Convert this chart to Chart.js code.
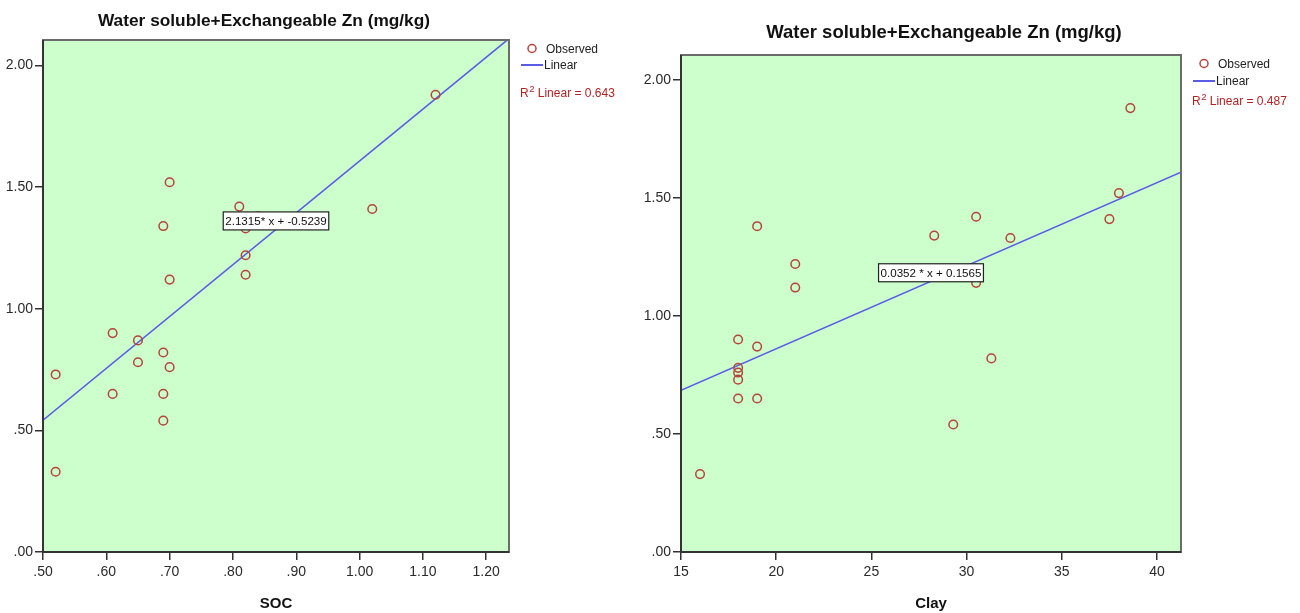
<!DOCTYPE html>
<html>
<head>
<meta charset="utf-8">
<script src="https://cdn.jsdelivr.net/npm/chart.js@4.4.1/dist/chart.umd.min.js"></script>
<style>
  html, body { margin: 0; padding: 0; background: #fff; }
  #wrap { position: relative; width: 1300px; height: 613px; }
  #wrap canvas { position: absolute; top: 0; }
</style>
</head>
<body>
<div id="wrap">
  <canvas id="socChart" width="630" height="613" style="left:0"></canvas>
  <canvas id="clayChart" width="670" height="613" style="left:630px"></canvas>
</div>
<script>
// ==============================
// Datos
// ==============================
const chartTitle = 'Water soluble+Exchangeable Zn (mg/kg)';
const znValues   = [0.73, 0.33, 0.90, 0.65, 0.87, 0.78, 1.34, 0.82, 0.65, 0.54,
                    1.52, 1.12, 0.76, 1.42, 1.33, 1.38, 1.22, 1.14, 1.41, 1.88];
const socValues  = [0.52, 0.52, 0.61, 0.61, 0.65, 0.65, 0.69, 0.69, 0.69, 0.69,
                    0.70, 0.70, 0.70, 0.81, 0.82, 0.84, 0.82, 0.82, 1.02, 1.12];
const clayValues = [18, 16, 18, 18, 19, 18, 28.3, 31.3, 19, 29.3,
                    38, 21, 18, 30.5, 32.3, 19, 21, 30.5, 37.5, 38.6];

// ajuste lineal mostrado en cada gráfico
const socFit  = { slope: 2.1315, intercept: -0.5239, label: '2.1315* x + -0.5239', r2: '0.643' };
const clayFit = { slope: 0.0352, intercept: 0.1565,  label: '0.0352 * x + 0.1565', r2: '0.487' };

// ticks
const znTicks   = [0, 0.5, 1.0, 1.5, 2.0];
const socTicks  = [0.5, 0.6, 0.7, 0.8, 0.9, 1.0, 1.1, 1.2];
const clayTicks = [15, 20, 25, 30, 35, 40];

const FONT = '"Liberation Sans", Arial, sans-serif';
const MARKER = '#b5453c';
const FITLINE = '#5b5be6';
const fmt2 = v => v.toFixed(2).replace(/^0\./, '.');

// ==============================
// Plugin: fondo, marco, título, leyenda y etiqueta de ecuación (estilo SPSS)
// ==============================
const spssPlugin = {
  id: 'spss',
  beforeDraw(chart) {
    const { ctx, chartArea: a } = chart;
    ctx.save();
    ctx.fillStyle = '#ccffcc';
    ctx.fillRect(a.left, a.top, a.right - a.left, a.bottom - a.top);
    ctx.restore();
  },
  afterDraw(chart, args, o) {
    const { ctx, chartArea: a, scales } = chart;
    ctx.save();

    // etiqueta de la ecuación, sobre la recta en el centro del área
    const cx = (a.left + a.right) / 2;
    const xv = scales.x.getValueForPixel(cx);
    const cy = scales.y.getPixelForValue(o.fit.slope * xv + o.fit.intercept) - 8.5;
    ctx.font = '11.6px ' + FONT;
    const tw = ctx.measureText(o.fit.label).width;
    ctx.fillStyle = '#fff';
    ctx.fillRect(cx - tw / 2 - 2, cy - 9, tw + 4, 18);
    ctx.strokeStyle = '#222';
    ctx.lineWidth = 1.2;
    ctx.strokeRect(cx - tw / 2 - 2, cy - 9, tw + 4, 18);
    ctx.fillStyle = '#111';
    ctx.textAlign = 'center';
    ctx.textBaseline = 'middle';
    ctx.fillText(o.fit.label, cx, cy + 1);

    // marco del área del gráfico
    ctx.strokeStyle = '#6b6b6b';
    ctx.lineWidth = 2;
    ctx.strokeRect(a.left, a.top, a.right - a.left, a.bottom - a.top);
    ctx.strokeStyle = '#333';
    ctx.beginPath();
    ctx.moveTo(a.left, a.top);
    ctx.lineTo(a.left, a.bottom);
    ctx.lineTo(a.right, a.bottom);
    ctx.stroke();

    // título
    ctx.font = 'bold ' + o.titleSize + 'px ' + FONT;
    ctx.fillStyle = '#111';
    ctx.fillText(chartTitle, o.titleX, o.titleY);

    // leyenda
    const lx = a.right, ly = a.top;
    ctx.strokeStyle = MARKER;
    ctx.lineWidth = 1.5;
    ctx.beginPath();
    ctx.arc(lx + 23, ly + 8.5, 4, 0, Math.PI * 2);
    ctx.stroke();
    ctx.strokeStyle = FITLINE;
    ctx.lineWidth = 2;
    ctx.beginPath();
    ctx.moveTo(lx + 12, ly + o.lineDy);
    ctx.lineTo(lx + 34, ly + o.lineDy);
    ctx.stroke();
    ctx.font = '12px ' + FONT;
    ctx.fillStyle = '#222';
    ctx.textAlign = 'left';
    ctx.fillText('Observed', lx + 37, ly + 10);
    ctx.fillText('Linear', lx + 35, ly + o.lineDy + 1);

    // R²
    ctx.fillStyle = '#b22222';
    let rx = lx + 11;
    const ry = ly + o.r2Dy;
    ctx.fillText('R', rx, ry);
    rx += ctx.measureText('R').width + 0.5;
    ctx.font = '9.5px ' + FONT;
    ctx.fillText('2', rx, ry - 5);
    rx += ctx.measureText('2').width;
    ctx.font = '12px ' + FONT;
    ctx.fillText(' Linear = ' + o.fit.r2, rx, ry);
    ctx.restore();
  }
};

// ==============================
// Construcción de cada gráfico
// ==============================
function makeScatter(canvasId, xs, xTicks, xLabel, xMax, fit, box, deco) {
  const points = xs.map((x, i) => ({ x: x, y: znValues[i] }));
  const xMin = xTicks[0];
  const yMax = 2.105;
  const lineData = [xMin, xMax].map(x => ({ x: x, y: fit.slope * x + fit.intercept }));
  const tickFmt = xTicks[0] < 10 ? fmt2 : (v => String(v));

  return new Chart(document.getElementById(canvasId), {
    type: 'scatter',
    data: {
      datasets: [
        {
          data: points,
          pointStyle: 'circle',
          pointRadius: 4.3,
          pointBorderWidth: 1.5,
          borderColor: MARKER,
          backgroundColor: 'rgba(0,0,0,0)',
          order: 1
        },
        {
          data: lineData,
          showLine: true,
          pointRadius: 0,
          borderColor: FITLINE,
          borderWidth: 1.6,
          order: 2
        }
      ]
    },
    options: {
      responsive: false,
      animation: false,
      layout: { padding: { left: 0, top: box.top, right: box.right, bottom: 0 } },
      plugins: {
        legend: { display: false },
        tooltip: { enabled: false },
        spss: deco
      },
      scales: {
        x: {
          type: 'linear',
          min: xMin,
          max: xMax,
          afterBuildTicks: s => { s.ticks = xTicks.map(v => ({ value: v })); },
          afterFit: s => { s.height = box.xHeight; },
          border: { display: false },
          grid: { drawOnChartArea: false, drawTicks: true, tickLength: 8, color: '#333', lineWidth: 1.5 },
          ticks: { padding: 4, color: '#2a2a2a', font: { family: FONT, size: 14 }, maxRotation: 0, callback: tickFmt },
          title: { display: true, text: xLabel, color: '#111', padding: { top: 0, bottom: 0 },
                   font: { family: FONT, size: 15, weight: 'bold' } }
        },
        y: {
          type: 'linear',
          min: 0,
          max: yMax,
          afterBuildTicks: s => { s.ticks = znTicks.map(v => ({ value: v })); },
          afterFit: s => { s.width = box.left; },
          border: { display: false },
          grid: { drawOnChartArea: false, drawTicks: true, tickLength: 8, color: '#333', lineWidth: 1.5 },
          ticks: { padding: 2, color: '#2a2a2a', font: { family: FONT, size: 14 }, callback: fmt2 }
        }
      }
    },
    plugins: [spssPlugin]
  });
}

window.addEventListener('DOMContentLoaded', () => {
  makeScatter('socChart', socValues, socTicks, 'SOC', 1.236, socFit,
    { left: 43, top: 40, right: 121, xHeight: 61 },
    { fit: socFit, titleX: 264, titleY: 21, titleSize: 17.3, lineDy: 25, r2Dy: 54 });
  makeScatter('clayChart', clayValues, clayTicks, 'Clay', 41.26, clayFit,
    { left: 51, top: 55, right: 119, xHeight: 61 },
    { fit: clayFit, titleX: 314, titleY: 33, titleSize: 18.5, lineDy: 26, r2Dy: 47 });
});
</script>
</body>
</html>
